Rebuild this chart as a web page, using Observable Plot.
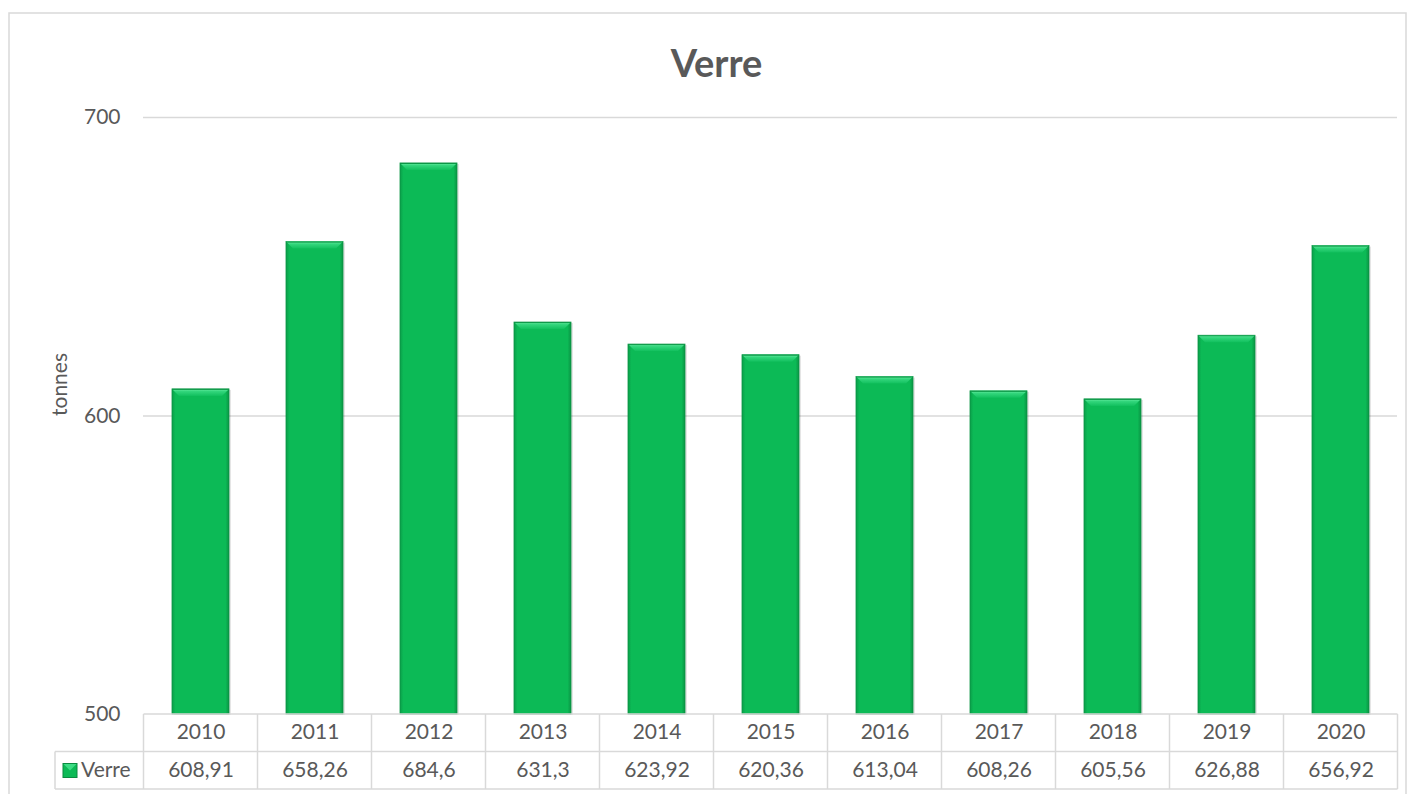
<!DOCTYPE html>
<html>
<head>
<meta charset="utf-8">
<script src="https://cdn.jsdelivr.net/npm/d3@7"></script>
<script src="https://cdn.jsdelivr.net/npm/@observablehq/plot@0.6"></script>
<style>
  html, body { margin: 0; padding: 0; background: #fff; }
  #chart svg { display: block; }
</style>
</head>
<body>
<div id="chart"></div>
<script>
const years = ["2010","2011","2012","2013","2014","2015","2016","2017","2018","2019","2020"];
const values = [608.91, 658.26, 684.6, 631.3, 623.92, 620.36, 613.04, 608.26, 605.56, 626.88, 656.92];
const yTicks = [500, 600, 700];
const seriesName = "Verre";
const titleText = "Verre";
const yLabel = "tonnes";

const data = years.map((y, i) => ({year: y, value: values[i]}));
const fmt = v => String(v).replace(".", ",");

const W = 1415, H = 794;
const mL = 143, mR = 18, mT = 117, mB = 80;
const FONT = "Lato, 'Open Sans', sans-serif";
const TXT = "#595959";

const chart = Plot.plot({
  width: W, height: H,
  marginLeft: mL, marginRight: mR, marginTop: mT, marginBottom: mB,
  style: {fontFamily: FONT, fontSize: "21px", color: TXT, background: "#fff", overflow: "visible"},
  x: {domain: years, paddingInner: 0.5, paddingOuter: 0.25, axis: null},
  y: {domain: [500, 700], ticks: yTicks, label: null},
  marks: [
    Plot.gridY(yTicks.filter(t => t > 500), {stroke: "#d9d9d9", strokeOpacity: 1, strokeWidth: 1.3}),
    Plot.axisY({ticks: yTicks, tickSize: 0, tickPadding: 23, fontSize: 21, fill: TXT, label: null}),
    Plot.text([yLabel], {frameAnchor: "left", dx: -83, rotate: -90, fontSize: 21, fill: TXT}),
    Plot.text([titleText], {frameAnchor: "top", dx: -54, dy: -67, fontSize: 38, fontWeight: "bold", fill: TXT}),
    // soft shadow
    Plot.barY(data, {x: "year", y1: 500, y2: "value", fill: "#000", fillOpacity: 0.10, dx: 2, dy: 1}),
    Plot.barY(data, {x: "year", y1: 500, y2: "value", fill: "url(#barGrad)", stroke: "#0a9444", strokeWidth: 0.8}),
    // table texts
    Plot.text(data, {x: "year", frameAnchor: "bottom", dy: 24, text: "year", fontSize: 21, fill: TXT}),
    Plot.text(data, {x: "year", frameAnchor: "bottom", dy: 62, text: d => fmt(d.value), fontSize: 21, fill: TXT})
  ]
});

document.getElementById("chart").appendChild(chart);

const svg = d3.select(chart);
const defs = svg.insert("defs", ":first-child");
const g = defs.append("linearGradient").attr("id", "barGrad").attr("x1", 0).attr("x2", 1).attr("y1", 0).attr("y2", 0);
g.append("stop").attr("offset", "0%").attr("stop-color", "#0a9e49");
g.append("stop").attr("offset", "6%").attr("stop-color", "#0cba56");
g.append("stop").attr("offset", "94%").attr("stop-color", "#0cba56");
g.append("stop").attr("offset", "100%").attr("stop-color", "#0a9444");
const tg = defs.append("linearGradient").attr("id", "topGrad").attr("x1", 0).attr("x2", 0).attr("y1", 0).attr("y2", 1);
tg.append("stop").attr("offset", "0%").attr("stop-color", "#6ef0a6");
tg.append("stop").attr("offset", "35%").attr("stop-color", "#33d67c");
tg.append("stop").attr("offset", "100%").attr("stop-color", "#12c05e");

const xs = chart.scale("x");
const yScale = chart.scale("y");
const step = xs.step !== undefined ? xs.step : (xs.bandwidth / 0.5);
const half = (step - xs.bandwidth) / 2;

// top bevel of each bar, placed from Plot's scales
const bev = 7;
const bevG = svg.append("g");
data.forEach(d => {
  const x0 = xs.apply(d.year), x1 = x0 + xs.bandwidth, y0 = yScale.apply(d.value);
  bevG.append("path")
    .attr("d", `M${x0},${y0} L${x1},${y0} L${x1 - bev},${y0 + bev} L${x0 + bev},${y0 + bev} Z`)
    .attr("fill", "url(#topGrad)");
  bevG.append("line").attr("x1", x0).attr("x2", x1).attr("y1", y0 + 0.5).attr("y2", y0 + 0.5)
    .attr("stroke", "#0a9444").attr("stroke-width", 1);
});

// table lines using Plot's scales
const yTop = yScale.apply(500);
const rowH = 37.5;
const yBot = yTop + 2 * rowH;
const lines = svg.append("g").attr("stroke", "#d9d9d9").attr("stroke-width", 1.5).attr("fill", "none");
const xLeft = xs.apply(years[0]) - half;
const xRight = xs.apply(years[years.length - 1]) + xs.bandwidth + half;
lines.append("line").attr("x1", xLeft).attr("x2", xRight).attr("y1", yTop).attr("y2", yTop);
lines.append("line").attr("x1", 55).attr("x2", xRight).attr("y1", yTop + rowH).attr("y2", yTop + rowH);
lines.append("line").attr("x1", 55).attr("x2", xRight).attr("y1", yBot).attr("y2", yBot);
years.forEach(y => {
  const xb = xs.apply(y) - half;
  lines.append("line").attr("x1", xb).attr("x2", xb).attr("y1", yTop).attr("y2", yBot);
});
lines.append("line").attr("x1", xRight).attr("x2", xRight).attr("y1", yTop).attr("y2", yBot);
lines.append("line").attr("x1", 55).attr("x2", 55).attr("y1", yTop + rowH).attr("y2", yBot);

// legend key
const lg = svg.append("g");
const ky = yTop + rowH + 12;
lg.append("rect").attr("x", 63).attr("y", ky).attr("width", 14).attr("height", 14)
  .attr("fill", "#0cba56").attr("stroke", "#0a8a40").attr("stroke-width", 1);
lg.append("path").attr("d", `M63.5,${ky + 0.5} L76.5,${ky + 0.5} L70,${ky + 7} Z`).attr("fill", "#3ddc84");
lg.append("text").attr("x", 81).attr("y", yTop + rowH + rowH / 2).attr("dy", "0.32em")
  .attr("text-anchor", "start")
  .attr("font-family", FONT).attr("font-size", 21).attr("fill", TXT).text(seriesName);

// outer chart border
svg.append("rect").attr("x", 9).attr("y", 13).attr("width", 1397).attr("height", H + 20)
  .attr("fill", "none").attr("stroke", "#d9d9d9").attr("stroke-width", 1.5);
</script>
</body>
</html>
